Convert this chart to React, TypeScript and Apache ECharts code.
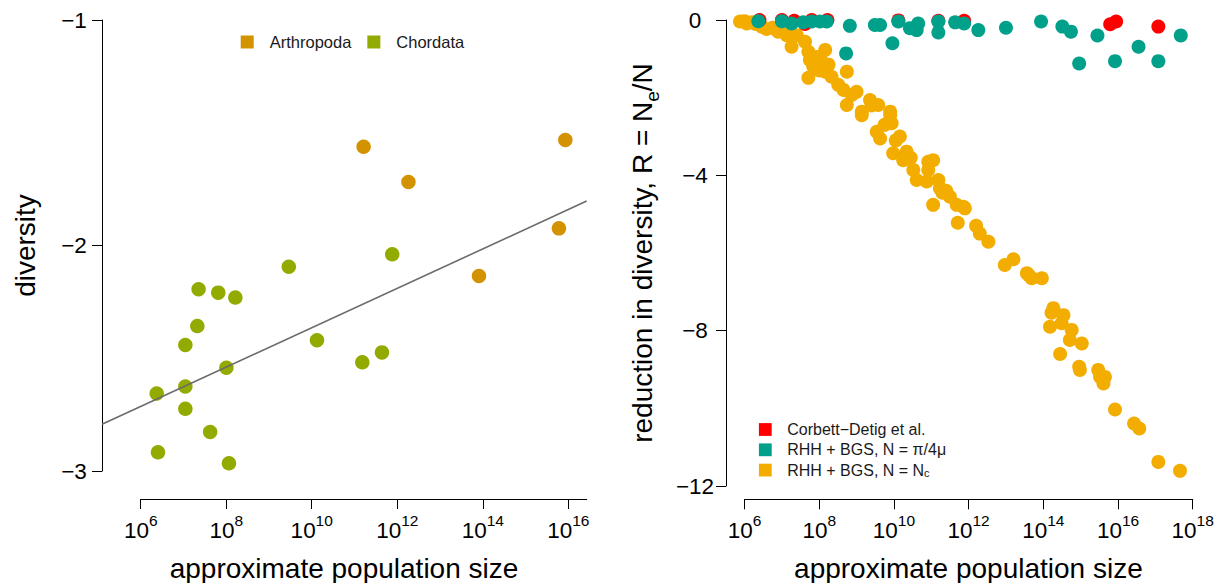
import React, { useEffect, useRef } from 'react';
import * as echarts from 'echarts';

// ---------- Left panel data (x = log10 population size) ----------
const arthropodaX = [11.21, 12.26, 15.93, 15.78, 13.91];
const arthropodaY = [-1.562, -1.718, -1.532, -1.924, -2.135];
const chordataX = [11.88, 9.46, 7.35, 7.81, 8.21, 7.32, 7.04, 10.12, 11.64, 11.18, 8.0, 7.04, 6.37, 7.04, 7.62, 6.4, 8.06];
const chordataY = [-2.039, -2.094, -2.194, -2.209, -2.231, -2.357, -2.441, -2.42, -2.474, -2.518, -2.542, -2.625, -2.656, -2.724, -2.827, -2.917, -2.966];
const fitX = [5.09, 16.43];
const fitY = [-2.793, -1.803];
const leftXTicks = [6, 8, 10, 12, 14, 16];

// ---------- Right panel data ----------
const corbettX = [6.4, 7.0, 7.33, 7.62, 7.8, 8.22, 10.12, 11.19, 11.88, 15.79, 15.95, 17.08];
const corbettY = [0, 0, -0.02, -0.1, 0, 0, -0.01, -0.02, -0.02, -0.11, -0.04, -0.17];
const piX = [6.37, 7.0, 7.26, 7.57, 7.8, 8.02, 8.2, 8.82, 9.49, 9.63, 9.96, 8.72, 10.12, 10.43, 10.61, 10.65, 11.19, 11.19, 11.64, 11.88, 12.26, 13.0, 13.94, 14.51, 14.74, 15.45, 14.96, 15.92, 16.55, 17.08, 17.68];
const piY = [-0.03, -0.03, -0.09, -0.06, -0.04, -0.04, -0.04, -0.15, -0.13, -0.13, -0.6, -0.86, -0.04, -0.21, -0.26, -0.09, -0.04, -0.32, -0.06, -0.09, -0.26, -0.2, -0.04, -0.17, -0.3, -0.4, -1.12, -1.06, -0.69, -1.06, -0.4];
const ncX = [
  5.88, 6.0, 6.06, 6.2, 6.3, 6.46, 6.59, 6.75, 6.9, 7.05, 7.13, 7.26, 7.4, 7.62, 7.71, 7.75, 7.84, 7.71, 7.95, 8.16, 8.07, 8.16, 8.25, 8.0, 8.33,
  8.74, 8.51, 8.65, 9.0, 8.87, 8.74, 9.36, 9.58, 9.14, 9.9, 9.14, 9.4, 9.54, 9.63, 9.75, 10.16, 9.98, 10.05, 10.34, 10.25, 10.45, 10.52, 10.61,
  10.92, 11.05, 10.92, 11.19, 11.23, 11.05, 11.5, 11.68, 11.86, 9.9, 9.94, 10.88, 11.3, 11.4, 11.9, 11.71, 12.2, 12.3, 12.53, 12.97, 13.2, 13.56,
  13.69, 13.62, 13.96, 14.27, 14.22, 14.54, 14.18, 14.49, 14.76, 14.71, 15.03, 14.45, 14.96, 14.98, 15.47, 15.52, 15.61, 15.65, 15.92, 16.43,
  16.57, 17.08, 17.66,
];
const ncY = [
  -0.04, -0.03, -0.09, -0.06, -0.1, -0.17, -0.23, -0.2, -0.3, -0.25, -0.39, -0.69, -0.39, -0.56, -0.82, -1.03, -1.2, -1.49, -0.95, -0.77, -1.07, -1.33, -1.15, -1.3, -1.46,
  -1.33, -1.67, -1.8, -1.85, -1.93, -2.19, -2.06, -2.19, -2.36, -2.36, -2.45, -2.2, -2.88, -3.05, -2.7, -3.0, -3.43, -3.1, -3.39, -3.61, -3.55, -3.86, -4.12,
  -3.65, -3.61, -3.86, -4.12, -4.33, -4.76, -4.55, -4.76, -4.81, -2.45, -2.66, -4.16, -4.45, -4.4, -4.85, -5.22, -5.3, -5.5, -5.71, -6.31, -6.16, -6.52,
  -6.65, -6.58, -6.65, -7.42, -7.54, -7.6, -7.9, -7.81, -7.98, -8.24, -8.33, -8.6, -8.93, -9.01, -9.01, -9.19, -9.36, -9.19, -10.03, -10.39,
  -10.52, -11.38, -11.61,
];
const rightXTicks = [6, 8, 10, 12, 14, 16, 18];
const rightYTicks = [-12, -8, -4, 0];

const FONT = '"Liberation Sans", Arial, Helvetica, sans-serif';
const pts = (xs: number[], ys: number[]) => xs.map((x, i) => [x, ys[i]]);
const minus = (v: number) => String(v).replace('-', '\u2212');

const xRich = {
  b: { fontSize: 22.5, fontFamily: FONT, color: '#000', padding: [7, 0, 0, 0], verticalAlign: 'bottom' },
  s: { fontSize: 15.5, fontFamily: FONT, color: '#000', verticalAlign: 'top' },
};
const powLabel = (v: number) => `{b|10}{s|${Math.round(v)}}`;
const axisLineStyle = { color: '#000', width: 1 };

export default function App() {
  const ref = useRef<HTMLDivElement>(null);
  useEffect(() => {
    if (!ref.current) return;
    const chart = echarts.init(ref.current, undefined, { renderer: 'svg' });
    const option: any = {
      animation: false,
      backgroundColor: '#fff',
      textStyle: { fontFamily: FONT, color: '#000' },
      grid: [
        // left plot region
        { left: 102, top: 20, width: 484.7, height: 451 },
        // left x axis (starts at 10^6)
        { left: 140.7, top: 20, width: 446, height: 451 },
        // right panel
        { left: 744.5, top: 20, width: 448.2, height: 466 },
      ],
      xAxis: [
        {
          gridIndex: 0, type: 'value', min: 5.09, max: 16.43, show: false,
          splitLine: { show: false },
        },
        {
          gridIndex: 1, type: 'value', min: 6, max: 16.43, offset: 28,
          axisLine: { show: true, onZero: false, lineStyle: axisLineStyle },
          axisTick: { show: true, length: 10, customValues: leftXTicks, lineStyle: axisLineStyle },
          axisLabel: { customValues: leftXTicks, formatter: powLabel, rich: xRich, margin: 13 },
          splitLine: { show: false },
        },
        {
          gridIndex: 2, type: 'value', min: 6, max: 18, interval: 2, offset: 13.3,
          axisLine: { show: true, onZero: false, lineStyle: axisLineStyle },
          axisTick: { show: true, length: 10, customValues: rightXTicks, lineStyle: axisLineStyle },
          axisLabel: { customValues: rightXTicks, formatter: powLabel, rich: xRich, margin: 13 },
          splitLine: { show: false },
        },
      ],
      yAxis: [
        {
          gridIndex: 0, type: 'value', min: -3, max: -1, interval: 1,
          axisLine: { show: true, onZero: false, lineStyle: axisLineStyle },
          axisTick: { show: true, length: 10, lineStyle: axisLineStyle },
          axisLabel: { formatter: minus, fontSize: 22.5, fontFamily: FONT, color: '#000', align: 'center', margin: 28 },
          splitLine: { show: false },
          name: 'diversity', nameLocation: 'middle', nameGap: 63,
          nameTextStyle: { fontSize: 28, fontFamily: FONT, color: '#000' },
        },
        {
          gridIndex: 1, type: 'value', min: -3, max: -1, show: false,
          splitLine: { show: false },
        },
        {
          gridIndex: 2, type: 'value', min: -12, max: 0, interval: 4, offset: 18.5,
          axisLine: { show: true, onZero: false, lineStyle: axisLineStyle },
          axisTick: { show: true, length: 10, lineStyle: axisLineStyle },
          axisLabel: { customValues: rightYTicks, formatter: minus, fontSize: 22.5, fontFamily: FONT, color: '#000', align: 'center', margin: 31 },
          splitLine: { show: false },
          name: '{t|reduction in diversity, R = N}{sub|e}{t|/N}', nameLocation: 'middle', nameGap: 64,
          nameTextStyle: {
            fontSize: 28, fontFamily: FONT, color: '#000',
            rich: {
              t: { fontSize: 28, fontFamily: FONT, color: '#000', padding: [0, 0, 6, 0], verticalAlign: 'top' },
              sub: { fontSize: 19, fontFamily: FONT, color: '#000', verticalAlign: 'bottom' },
            },
          },
        },
      ],
      legend: [
        {
          data: ['Arthropoda', 'Chordata'], orient: 'horizontal', left: 240.7, top: 33.5, padding: 0,
          icon: 'rect', itemWidth: 13, itemHeight: 13, itemGap: 16,
          textStyle: { fontSize: 16.5, fontFamily: FONT, color: '#1a1a1a', padding: [0, 0, 0, 11] },
          selectedMode: false,
        },
        {
          data: ['Corbett\u2212Detig et al.', 'RHH + BGS, N = \u03c0/4\u03bc', 'RHH + BGS, N = Nc'],
          orient: 'vertical', left: 758.9, top: 421.5, padding: 0, icon: 'rect', itemWidth: 12.8, itemHeight: 12.8, itemGap: 4.3,
          formatter: (name: string) =>
            name === 'RHH + BGS, N = Nc' ? '{t|RHH + BGS, N = N}{sub|c}' : `{t|${name}}`,
          textStyle: {
            fontSize: 16, fontFamily: FONT, color: '#1a1a1a', padding: [0, 0, 0, 10.5],
            rich: {
              t: { fontSize: 16, fontFamily: FONT, color: '#1a1a1a', lineHeight: 16 },
              sub: { fontSize: 11, fontFamily: FONT, color: '#1a1a1a', verticalAlign: 'bottom', lineHeight: 14 },
            },
          },
          selectedMode: false,
        },
      ],
      graphic: [
        {
          type: 'text', x: 344, y: 568, silent: true,
          style: { text: 'approximate population size', fontSize: 28, fontFamily: FONT, fill: '#000', align: 'center', verticalAlign: 'middle' },
        },
        {
          type: 'text', x: 968.4, y: 568, silent: true,
          style: { text: 'approximate population size', fontSize: 28, fontFamily: FONT, fill: '#000', align: 'center', verticalAlign: 'middle' },
        },
      ],
      series: [
        {
          name: 'fit', type: 'line', xAxisIndex: 0, yAxisIndex: 0, data: pts(fitX, fitY),
          symbol: 'none', clip: false, silent: true, lineStyle: { color: '#6b6b6b', width: 1.6 },
        },
        {
          name: 'Arthropoda', type: 'scatter', xAxisIndex: 0, yAxisIndex: 0, data: pts(arthropodaX, arthropodaY),
          symbolSize: 14.5, clip: false, itemStyle: { color: '#D39200', opacity: 1 },
        },
        {
          name: 'Chordata', type: 'scatter', xAxisIndex: 0, yAxisIndex: 0, data: pts(chordataX, chordataY),
          symbolSize: 14.5, clip: false, itemStyle: { color: '#93AA00', opacity: 1 },
        },
        {
          name: 'RHH + BGS, N = Nc', type: 'scatter', xAxisIndex: 2, yAxisIndex: 2, data: pts(ncX, ncY),
          symbolSize: 14, clip: false, itemStyle: { color: '#F2AD00', opacity: 1 },
        },
        {
          name: 'Corbett\u2212Detig et al.', type: 'scatter', xAxisIndex: 2, yAxisIndex: 2, data: pts(corbettX, corbettY),
          symbolSize: 14, clip: false, itemStyle: { color: '#FF0000', opacity: 1 },
        },
        {
          name: 'RHH + BGS, N = \u03c0/4\u03bc', type: 'scatter', xAxisIndex: 2, yAxisIndex: 2, data: pts(piX, piY),
          symbolSize: 14, clip: false, itemStyle: { color: '#00A08A', opacity: 1 },
        },
      ],
    };
    chart.setOption(option);
    return () => chart.dispose();
  }, []);
  return (
    <div
      ref={ref}
      style={{ position: 'fixed', left: 0, top: 0, width: 1217, height: 583, background: '#fff' }}
    />
  );
}
